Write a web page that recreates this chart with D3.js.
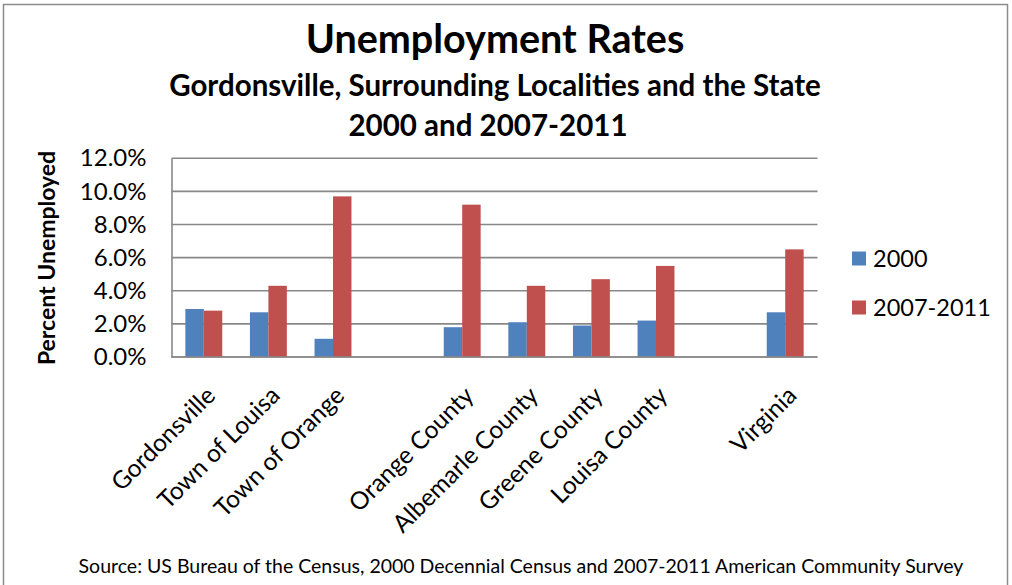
<!DOCTYPE html>
<html>
<head>
<meta charset="utf-8">
<script src="https://cdn.jsdelivr.net/npm/d3@7"></script>
<style>
  html, body { margin: 0; padding: 0; background: #fff; }
  svg { display: block; font-family: Lato, "Open Sans", sans-serif; }
</style>
</head>
<body>
<svg id="chart" width="1012" height="585"></svg>
<script>
// Unemployment rates (%) by locality; blank names are spacer slots between groups
const categories = ["Gordonsville", "Town of Louisa", "Town of Orange", "",
  "Orange County", "Albemarle County", "Greene County", "Louisa County", " ", "Virginia"];
const seriesNames = ["2000", "2007-2011"];
const values2000 = [2.9, 2.7, 1.1, null, 1.8, 2.1, 1.9, 2.2, null, 2.7];
const values2007 = [2.8, 4.3, 9.7, null, 9.2, 4.3, 4.7, 5.5, null, 6.5];
const yTicks = [0, 2, 4, 6, 8, 10, 12];
const colors = ["#4f81bd", "#c0504d"];

const svg = d3.select("#chart");
const plot = { left: 171.5, right: 817.5, top: 158.3, bottom: 357 };

// outer frame
svg.append("rect").attr("x", 3.5).attr("y", 4.5).attr("width", 1004).attr("height", 600)
  .attr("fill", "none").attr("stroke", "#8c8c8c").attr("stroke-width", 1.5);

// titles
svg.append("text").attr("x", 495).attr("y", 53).attr("text-anchor", "middle")
  .attr("font-weight", "bold").attr("font-size", 39.5).text("Unemployment Rates");
svg.append("text").attr("x", 495).attr("y", 96).attr("text-anchor", "middle")
  .attr("font-weight", "bold").attr("font-size", 29.5).text("Gordonsville, Surrounding Localities and the State");
svg.append("text").attr("x", 488).attr("y", 136).attr("text-anchor", "middle")
  .attr("font-weight", "bold").attr("font-size", 29.5).text("2000 and 2007-2011");

const x = d3.scaleBand().domain(categories).range([plot.left, plot.right]).paddingInner(0).paddingOuter(0);
const slot = x.bandwidth();
const barW = slot / 3.5;
const xSeries = d3.scaleBand().domain(seriesNames).range([0, 2 * barW]);
const y = d3.scaleLinear().domain([0, 12]).range([plot.bottom, plot.top]);

// gridlines
svg.append("g").selectAll("line").data(yTicks).join("line")
  .attr("x1", plot.left).attr("x2", plot.right)
  .attr("y1", d => y(d)).attr("y2", d => y(d))
  .attr("stroke", "#888888").attr("stroke-width", 1.6);

// y axis labels
const yAxis = d3.axisLeft(y).tickValues(yTicks).tickFormat(d => d.toFixed(1) + "%").tickSize(0).tickPadding(25);
const gy = svg.append("g").attr("transform", `translate(${plot.left},0)`).call(yAxis);
gy.select(".domain").attr("stroke", "#888888").attr("stroke-width", 1.6);
gy.selectAll("text").attr("font-size", 24).attr("fill", "#000").attr("font-family", "Lato, sans-serif");

// bars
const rows = categories.map((c, i) => ({ c, v: [values2000[i], values2007[i]] }));
const groups = svg.append("g").selectAll("g").data(rows).join("g")
  .attr("transform", d => `translate(${x(d.c) + (slot - 2 * barW) / 2},0)`);
groups.selectAll("rect").data(d => d.v.map((v, k) => ({ v, k }))).join("rect")
  .filter(d => d.v !== null)
  .attr("x", d => xSeries(seriesNames[d.k]))
  .attr("width", xSeries.bandwidth())
  .attr("y", d => y(d.v))
  .attr("height", d => plot.bottom - y(d.v))
  .attr("fill", d => colors[d.k]);

// x axis baseline and rotated labels
svg.append("line").attr("x1", plot.left).attr("x2", plot.right)
  .attr("y1", plot.bottom).attr("y2", plot.bottom)
  .attr("stroke", "#888888").attr("stroke-width", 1.6);
const xAxis = d3.axisBottom(x).tickSize(0).tickFormat(d => d.trim());
const gx = svg.append("g").attr("transform", `translate(0,${plot.bottom})`).call(xAxis);
gx.select(".domain").remove();
gx.selectAll("text")
  .attr("font-size", 24.5).attr("fill", "#000").attr("font-family", "Lato, sans-serif")
  .attr("text-anchor", "end")
  .attr("dy", null).attr("y", 0)
  .attr("transform", "translate(13,40) rotate(-45)");

// y axis title
svg.append("text").attr("transform", "translate(55,258) rotate(-90)")
  .attr("text-anchor", "middle").attr("font-weight", "bold").attr("font-size", 23)
  .text("Percent Unemployed");

// legend
const legend = svg.append("g").selectAll("g").data(seriesNames).join("g")
  .attr("transform", (d, i) => `translate(852,${251.5 + i * 49})`);
legend.append("rect").attr("width", 14).attr("height", 14).attr("fill", (d, i) => colors[i]);
legend.append("text").attr("x", 21).attr("y", 15).attr("font-size", 23.5).text(d => d);

// source note
svg.append("text").attr("x", 521).attr("y", 573).attr("text-anchor", "middle")
  .attr("font-size", 19.5).text("Source: US Bureau of the Census, 2000 Decennial Census and 2007-2011 American Community Survey");
</script>
</body>
</html>
